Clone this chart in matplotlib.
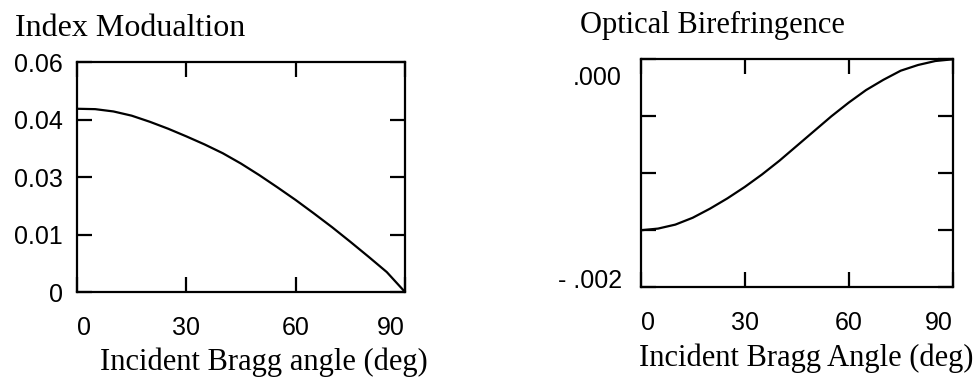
import matplotlib
matplotlib.use("Agg")
import matplotlib.pyplot as plt

# angle grid (deg)
angle = [0, 5, 10, 15, 20, 25, 30, 35, 40, 45, 50, 55, 60, 65, 70, 75, 80, 85, 90]

# index modulation
index_mod = [0.0478, 0.0477, 0.0471, 0.0460, 0.0444, 0.0426, 0.0406, 0.0385, 0.0362,
             0.0335, 0.0305, 0.0273, 0.0240, 0.0205, 0.0169, 0.0131, 0.0092, 0.0052, 0.0]

# optical birefringence
biref = [-0.00150, -0.001485, -0.00145, -0.00139, -0.00131, -0.00122, -0.00112, -0.00101,
         -0.00089, -0.00076, -0.00063, -0.00050, -0.00038, -0.00027, -0.00018, -0.00010,
         -0.00005, -0.000015, 0.0]

x_ticks = [0, 30, 60, 90]
x_labels = ["0", "30", "60", "90"]
left_yticks = [0, 0.015, 0.03, 0.045, 0.06]
left_ylabels = ["0", "0.01", "0.03", "0.04", "0.06"]
right_yticks = [-0.002, -0.0015, -0.001, -0.0005, 0.0]

serif = "Liberation Serif"
sans = "Liberation Sans"

fig = plt.figure(figsize=(9.78, 3.81), dpi=100)
ax1 = fig.add_axes([77 / 978, 89 / 381, 328 / 978, 230 / 381])
ax2 = fig.add_axes([640.7 / 978, 93.7 / 381, 312 / 978, 228 / 381])


def style(ax):
    for s in ax.spines.values():
        s.set_linewidth(1.6)
    ax.tick_params(direction="in", length=11, width=1.6, top=True, right=True,
                   labelsize=18, pad=17)
    ax.tick_params(axis="y", pad=10)
    ax.set_xlim(0, 90)
    ax.set_xticks(x_ticks)
    ax.set_xticklabels(x_labels, fontfamily=sans)
    lab = ax.get_xticklabels()
    lab[0].set_ha("left")
    lab[-1].set_ha("right")


# left panel
ax1.plot(angle, index_mod, color="black", lw=1.6)
style(ax1)
ax1.set_ylim(0, 0.06)
ax1.set_yticks(left_yticks)
ax1.set_yticklabels(left_ylabels, fontfamily=sans)
ax1.set_xlabel("Incident Bragg angle (deg)", fontfamily=serif, fontsize=22)
ax1.xaxis.set_label_coords(0.57, -0.305)
ax1.xaxis.label.set_va("center")
fig.text(15 / 978, 1 - 36.5 / 381, "Index Modualtion", fontfamily=serif, fontsize=23,
         va="baseline", ha="left")

# right panel
ax2.plot(angle, biref, color="black", lw=1.6)
style(ax2)
ax2.set_ylim(-0.002, 0.0)
ax2.set_yticks(right_yticks)
ax2.set_yticklabels([])
ax2.text(-0.061, 0.919, ".000", transform=ax2.transAxes, ha="right", va="center",
         fontfamily=sans, fontsize=18)
ax2.text(-0.061, 0.028, "- .002", transform=ax2.transAxes, ha="right", va="center",
         fontfamily=sans, fontsize=18)
ax2.set_xlabel("Incident Bragg Angle (deg)", fontfamily=serif, fontsize=22)
ax2.xaxis.set_label_coords(0.53, -0.31)
ax2.xaxis.label.set_va("center")
fig.text(580 / 978, 1 - 33 / 381, "Optical Birefringence", fontfamily=serif, fontsize=22,
         va="baseline", ha="left")

fig.savefig("out.png", dpi=100)
